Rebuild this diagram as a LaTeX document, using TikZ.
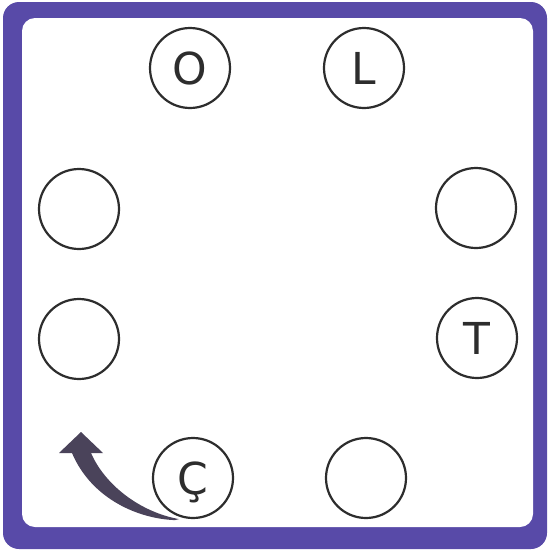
\documentclass[tikz,border=0pt]{standalone}
\usepackage{fontspec}
\setmainfont{DejaVu Sans}
\usetikzlibrary{calc}
\definecolor{framepurple}{RGB}{88, 74, 168}
\definecolor{arrowgray}{RGB}{74, 67, 90}
\definecolor{inkgray}{RGB}{45, 45, 45}

\begin{document}
\begin{tikzpicture}[x=1pt, y=-1pt,
  letterring/.style={draw=inkgray, line width=2.2pt, circle, minimum size=80pt, inner sep=0pt, text=inkgray, text height=32pt, text depth=0pt, font=\fontsize{44}{44}\selectfont}
]
  \useasboundingbox (0,0) rectangle (548,552);
  % frame
  \fill[framepurple, rounded corners=16pt] (3,2) rectangle (547,549);
  \fill[white, rounded corners=13pt] (22,18) rectangle (533,527);

  % circles
  \node[letterring] (o) at (190,68) {O};
  \node[letterring] (l) at (364,68) {L};
  \node[letterring] (wtop) at (79,209) {};
  \node[letterring] (wbot) at (79,339) {};
  \node[letterring] (etop) at (476,208) {};
  \node[letterring] (t) at (477,338) {T};
  \node[letterring] (cc) at (193,478) {Ç};
  \node[letterring] (sb) at (366,478) {};

  % arrow
  \coordinate (tip) at (81,432);
  \fill[arrowgray] ($(cc.south)+(-18,1)$) .. controls (140,519) and (92,500) .. (72,453)
    -- (59,453) -- (tip) -- (103,453) -- (91,453)
    .. controls (105,485) and (140,512) .. ($(cc.south)+(-14,0)$) -- cycle;
\end{tikzpicture}
\end{document}
